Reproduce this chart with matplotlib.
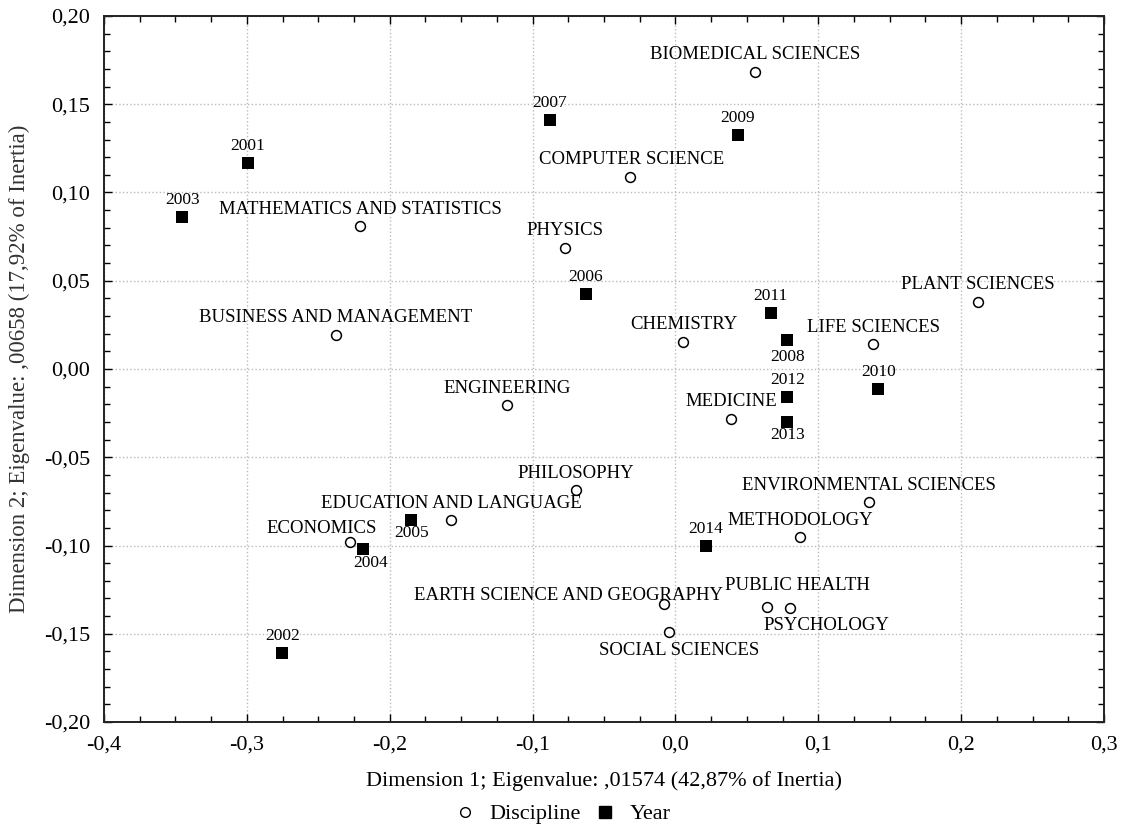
import matplotlib
matplotlib.use("Agg")
import matplotlib.pyplot as plt
from matplotlib.ticker import MultipleLocator, FuncFormatter
from matplotlib.lines import Line2D

plt.rcParams['font.family'] = ['Liberation Serif', 'DejaVu Serif']

# ---- data ----
disc_names = ["BIOMEDICAL SCIENCES", "COMPUTER SCIENCE", "MATHEMATICS AND STATISTICS",
              "PHYSICS", "PLANT SCIENCES", "BUSINESS AND MANAGEMENT", "CHEMISTRY",
              "LIFE SCIENCES", "ENGINEERING", "MEDICINE", "PHILOSOPHY",
              "EDUCATION AND LANGUAGE", "ECONOMICS", "EARTH SCIENCE AND GEOGRAPHY",
              "SOCIAL SCIENCES", "ENVIRONMENTAL SCIENCES", "METHODOLOGY",
              "PUBLIC HEALTH", "PSYCHOLOGY"]
disc_x = [0.0557, -0.0318, -0.2208, -0.0773, 0.2118, -0.2376, 0.0055, 0.1385, -0.1179,
          0.0389, -0.0696, -0.1569, -0.2278, -0.0080, -0.0043, 0.1355, 0.0872, 0.0641, 0.0802]
disc_y = [0.1684, 0.1088, 0.0810, 0.0686, 0.0380, 0.0193, 0.0155, 0.0140, -0.0204,
          -0.0283, -0.0686, -0.0856, -0.0982, -0.1333, -0.1492, -0.0754, -0.0952, -0.1348, -0.1354]

year_labels = ["2001", "2003", "2007", "2009", "2006", "2011", "2008", "2010",
               "2012", "2013", "2005", "2004", "2014", "2002"]
year_x = [-0.2994, -0.3452, -0.0878, 0.0436, -0.0626, 0.0667, 0.0783, 0.1420,
          0.0783, 0.0783, -0.1853, -0.2185, 0.0212, -0.2752]
year_y = [0.1165, 0.0860, 0.1411, 0.1326, 0.0425, 0.0316, 0.0164, -0.0113,
          -0.0157, -0.0302, -0.0856, -0.1022, -0.1001, -0.1611]

x_title = "Dimension 1; Eigenvalue: ,01574 (42,87% of Inertia)"
y_title = "Dimension 2; Eigenvalue: ,00658 (17,92% of Inertia)"

# ---- label placement (pixel offsets) ----
disc_off = {"ECONOMICS": (-28, 14), "EARTH SCIENCE AND GEOGRAPHY": (-96, 9),
            "SOCIAL SCIENCES": (10, -18), "PUBLIC HEALTH": (30, 21),
            "PSYCHOLOGY": (36, -18), "CHEMISTRY": (1, 17), "COMPUTER SCIENCE": (2, 17)}
year_off = {"2008": (0, -17), "2013": (0, -13), "2005": (1, -13), "2004": (7, -14)}

fig = plt.figure(figsize=(11.21, 8.25), dpi=100)
ax = fig.add_axes([104 / 1121, 1 - 722 / 825, 1000 / 1121, 706 / 825])

ax.scatter(disc_x, disc_y, s=50, marker='o', facecolors='white', edgecolors='black',
           linewidths=1.1, zorder=3)
ax.scatter(year_x, year_y, s=75, marker='s', facecolors='black', edgecolors='black',
           linewidths=0, zorder=3)

for n, x, y in zip(disc_names, disc_x, disc_y):
    dx, dy = disc_off.get(n, (0, 17))
    ax.annotate(n, (x, y), xytext=(dx, dy), textcoords='offset pixels',
                ha='center', va='center', fontsize=13.5, zorder=4)
for n, x, y in zip(year_labels, year_x, year_y):
    dx, dy = year_off.get(n, (0, 17))
    ax.annotate(n, (x, y), xytext=(dx, dy), textcoords='offset pixels',
                ha='center', va='center', fontsize=12.5, zorder=4)

ax.set_xlim(-0.4, 0.3)
ax.set_ylim(-0.2, 0.2)
ax.xaxis.set_major_locator(MultipleLocator(0.1))
ax.xaxis.set_minor_locator(MultipleLocator(0.025))
ax.yaxis.set_major_locator(MultipleLocator(0.05))
ax.yaxis.set_minor_locator(MultipleLocator(0.01))
ax.xaxis.set_major_formatter(FuncFormatter(lambda v, p: f"{v:.1f}".replace('.', ',').replace('−', '-')))
ax.yaxis.set_major_formatter(FuncFormatter(lambda v, p: f"{v:.2f}".replace('.', ',').replace('−', '-')))
ax.tick_params(which='both', direction='in', top=True, right=True, labelsize=16)
ax.tick_params(which='major', length=6, width=1, pad=10)
ax.tick_params(which='minor', length=4, width=1)
ax.grid(True, which='major', linestyle=':', color='#bbbbbb', linewidth=1)
for s in ax.spines.values():
    s.set_linewidth(1.4)
    s.set_color('#222222')

ax.set_xlabel(x_title, fontsize=16, labelpad=12)
ax.set_ylabel(y_title, fontsize=16.5, labelpad=10, color='#333333')

handles = [Line2D([], [], marker='o', linestyle='none', markerfacecolor='white',
                  markeredgecolor='black', markersize=7),
           Line2D([], [], marker='s', linestyle='none', markerfacecolor='black',
                  markeredgecolor='black', markersize=8.5)]
fig.legend(handles, ["Discipline", "Year"], loc='center', ncol=2, frameon=False,
           bbox_to_anchor=(561 / 1121, 1 - 814 / 825), fontsize=16,
           handletextpad=0.5, columnspacing=0.5, handlelength=1.2)

fig.savefig("out.png", dpi=100)
